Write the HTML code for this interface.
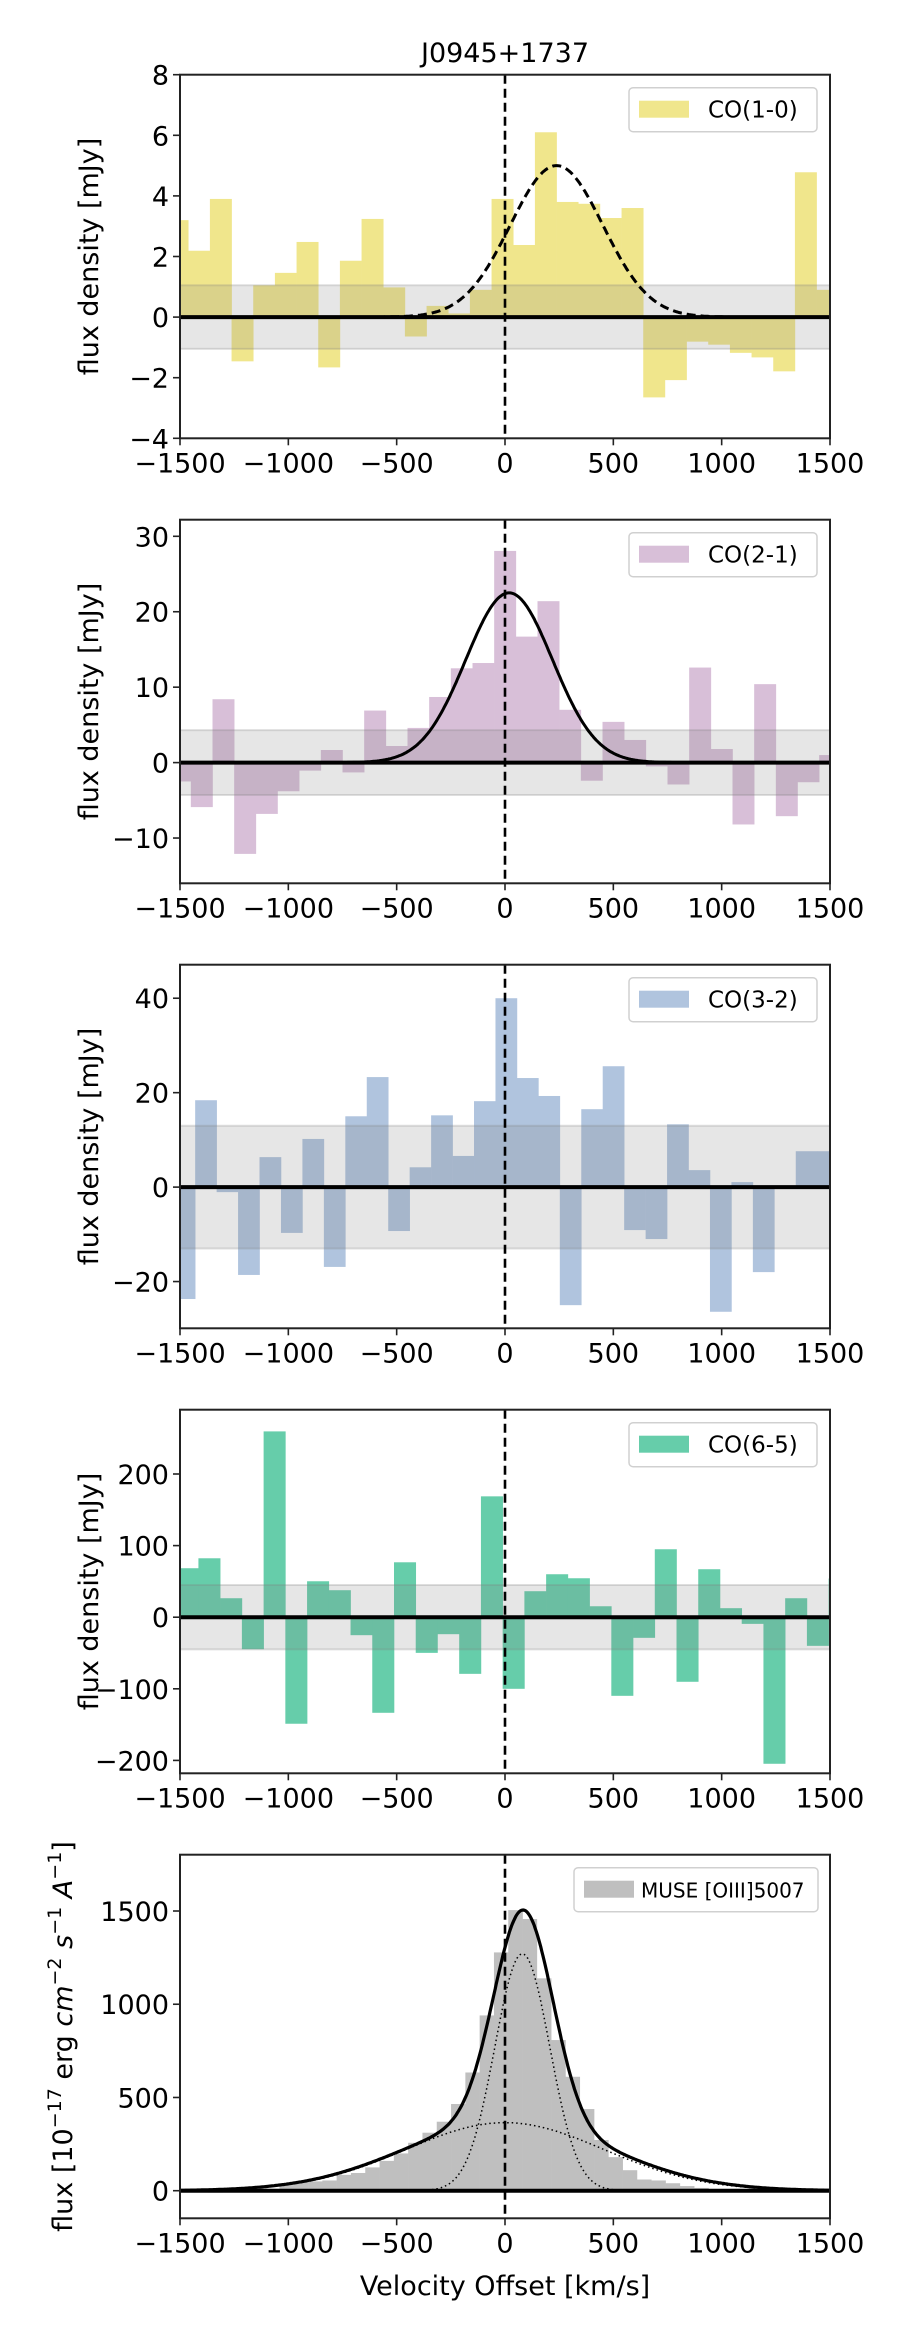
<!DOCTYPE html>
<html><head><meta charset="utf-8"><style>
body{margin:0;background:#fff;}
svg{display:block;font-family:"DejaVu Sans","Liberation Sans",sans-serif;}
</style></head><body>
<svg id="fig" width="900" height="2340" viewBox="0 0 900 2340" xmlns="http://www.w3.org/2000/svg">
<text x="505" y="62" font-size="27" text-anchor="middle">J0945+1737</text>
<text x="505" y="2295" font-size="27" text-anchor="middle">Velocity Offset [km/s]</text>
</svg>
<script>
// ---- data ----
const xTicks = [-1500, -1000, -500, 0, 500, 1000, 1500];
const xTickLabels = ["\u22121500", "\u22121000", "\u2212500", "0", "500", "1000", "1500"];

const co10Start = -1562, co10Width = 100;
const co10Values = [3.2,2.19,3.9,-1.46,1.05,1.46,2.48,-1.66,1.86,3.24,0.98,-0.64,0.37,0.12,0.9,3.9,2.38,6.1,3.8,3.74,3.27,3.6,-2.65,-2.08,-0.81,-0.91,-1.18,-1.33,-1.79,4.78,0.9];
const co10Fit = [5.0, 238, 214];
const co10Noise = 1.05;
const co10YTicks = [-4,-2,0,2,4,6,8];

const co21Start = -1550, co21Width = 100;
const co21Values = [-2.5,-5.9,8.4,-12.1,-6.8,-3.8,-1.06,1.67,-1.3,6.9,2.2,4.6,8.7,12.5,13.2,28.06,16.7,21.4,7.0,-2.4,5.4,3.0,-0.5,-2.9,12.6,1.8,-8.2,10.4,-7.1,-2.6,1.0];
const co21Fit = [22.5, 19, 200];
const co21Noise = 4.3;
const co21YTicks = [-10,0,10,20,30];

const co32Start = -1529, co32Width = 99;
const co32Values = [-23.7,18.4,-1.06,-18.6,6.35,-9.7,10.2,-16.9,15.0,23.3,-9.3,4.2,15.2,6.6,18.2,40.0,23.1,19.3,-25.0,16.5,25.6,-9.1,-11.0,13.3,3.6,-26.4,1.06,-18.0,0,7.6,7.6];
const co32Noise = 13;
const co32YTicks = [-20,0,20,40];

const co65Start = -1515.3, co65Width = 100.3;
const co65Values = [68.4,82.3,26.5,-44.7,259.5,-148.8,50.2,37.7,-25.1,-133.5,76.7,-49.8,-23.7,-79.1,168.8,-100,36.3,60,54.4,15.3,-109.8,-28.8,94.9,-90.2,67,12.6,-9.3,-204.7,26.5,-40,54];
const co65Noise = 45;
const co65YTicks = [-200,-100,0,100,200];

const o3Start = -1503, o3Width = 66;
const o3Values = [0,0,-10,0,0,5,10,30,50,50,55,85,95,125,160,200,257,311,370,465,634,940,1278,1505,1457,1139,808,611,438,272,180,110,60,55,40,25,15,8,3,0,0,0,0,0,0,0];
const o3TotalNarrow = [1140, 85, 135];
const o3TotalBroad = [370, 10, 470];
const o3CompNarrow = [1270, 80, 127];
const o3CompBroad = [365, 0, 456];
const o3YTicks = [0,500,1000,1500];
const o3YTickLabels = ["0","500","1000","1500"];

// ---- drawing ----
const NS = "http://www.w3.org/2000/svg";
const svg = document.getElementById("fig");
const AX_L = 180, AX_R = 830, AX_H = 363.6;
function mk(tag, attrs, parent){const e=document.createElementNS(NS,tag);for(const k in attrs)e.setAttribute(k,attrs[k]);(parent||svg).appendChild(e);return e;}
function xs(v){return AX_L + (v+1500)/3000*(AX_R-AX_L);}
function gauss(p,x){return p[0]*Math.exp(-(x-p[1])*(x-p[1])/(2*p[2]*p[2]));}
function fmt(v){return v<0?"\u2212"+Math.abs(v):String(v);}

function panel(idx, top, ymin, ymax, start, width, values, color, noise, yticks, legendText, opts){
  const ys = v => top + (ymax - v)/(ymax-ymin)*AX_H;
  const g = mk("g",{});
  
  
  const cp = mk("clipPath",{id:"clip"+idx},g);
  mk("rect",{x:AX_L,y:top,width:AX_R-AX_L,height:AX_H},cp);
  const plot = mk("g",{"clip-path":"url(#clip"+idx+")"},g);
  values.forEach((v,i)=>{
    const x0=xs(start+i*width), x1=xs(start+(i+1)*width);
    const r = mk("rect",{x:x0,y:Math.min(ys(v),ys(0)),width:x1-x0+0.3,height:Math.abs(ys(v)-ys(0)),fill:color},plot);
    
    
  });
  if(noise!==null){
    const b = mk("rect",{x:AX_L,y:ys(noise),width:AX_R-AX_L,height:ys(-noise)-ys(noise),fill:"rgba(128,128,128,0.2)"},plot);
    
    
    mk("line",{x1:AX_L,x2:AX_R,y1:ys(noise),y2:ys(noise),stroke:"rgba(128,128,128,0.25)","stroke-width":2},plot);
    mk("line",{x1:AX_L,x2:AX_R,y1:ys(-noise),y2:ys(-noise),stroke:"rgba(128,128,128,0.25)","stroke-width":2},plot);
  }
  const zl = mk("line",{x1:AX_L,x2:AX_R,y1:ys(0),y2:ys(0),stroke:"#000","stroke-width":4},plot);
  
  
  if(opts.curves){
    opts.curves.forEach(c=>{
      let d="";
      for(let v=-1500;v<=1500;v+=5){const y=c.f(v);d+=(d?"L":"M")+xs(v).toFixed(1)+","+ys(y).toFixed(1);}
      const p = mk("path",{d:d,fill:"none",stroke:"#000","stroke-width":c.w,"stroke-dasharray":c.dash||"none"},plot);
      
      
    });
  }
  const vl = mk("line",{x1:xs(0),x2:xs(0),y1:top,y2:top+AX_H,stroke:"#000","stroke-width":2.6,"stroke-dasharray":"9,5"},g);
  
  
  const fr = mk("rect",{x:AX_L,y:top,width:AX_R-AX_L,height:AX_H,fill:"none",stroke:"#222","stroke-width":2},g);
  
  
  xTicks.forEach((t,i)=>{
    mk("line",{x1:xs(t),x2:xs(t),y1:top+AX_H,y2:top+AX_H+7,stroke:"#222","stroke-width":1.6},g);
    const tx = mk("text",{x:xs(t),y:top+AX_H+34,"font-size":27,"text-anchor":"middle"},g);
    tx.textContent = xTickLabels[i];
    
    
  });
  yticks.forEach((t,i)=>{
    mk("line",{x1:AX_L-7,x2:AX_L,y1:ys(t),y2:ys(t),stroke:"#222","stroke-width":1.6},g);
    const tx = mk("text",{x:AX_L-11,y:ys(t)+10,"font-size":27,"text-anchor":"end"},g);
    tx.textContent = opts.yLabels?opts.yLabels[i]:fmt(t);
    
    
  });
  const yl = mk("text",{x:0,y:0,"font-size":opts.ylFont||27,"text-anchor":"middle",transform:"translate("+(opts.ylX||98)+","+(top+AX_H/2)+") rotate(-90)"},g);
  
  
  if(opts.ylabelHTML){yl.innerHTML=opts.ylabelHTML;}else{yl.textContent="flux density [mJy]";}
  const lg = mk("g",{},g);
  
  
  const L = opts.legend;
  mk("rect",{x:L.x,y:top+13,width:L.w,height:44,rx:4,fill:"#fff",stroke:"#d0d0d0","stroke-width":1.5},lg);
  mk("rect",{x:L.x+10,y:top+26,width:50,height:17,fill:color},lg);
  const lt = mk("text",{x:L.x+L.tx,y:top+43,"font-size":L.fs},lg);
  lt.textContent = legendText;
  
  
}

const T0 = 74.7, DY = 445;
panel(1, T0, -4, 8, co10Start, co10Width, co10Values, "#f0e68c", co10Noise, co10YTicks, "CO(1-0)",
  {legend:{x:629,w:188,tx:79,fs:23}, curves:[{name:"co10-gaussian-fit",w:3,dash:"9,5",f:v=>gauss(co10Fit,v)}]});
panel(2, T0+DY, -16, 32.2, co21Start, co21Width, co21Values, "#d8bfd8", co21Noise, co21YTicks, "CO(2-1)",
  {legend:{x:629,w:188,tx:79,fs:23}, curves:[{name:"co21-gaussian-fit",w:3,f:v=>gauss(co21Fit,v)}]});
panel(3, T0+2*DY, -29.9, 47.1, co32Start, co32Width, co32Values, "#b0c4de", co32Noise, co32YTicks, "CO(3-2)",
  {legend:{x:629,w:188,tx:79,fs:23}});
panel(4, T0+3*DY, -218, 289.8, co65Start, co65Width, co65Values, "#66cdaa", co65Noise, co65YTicks, "CO(6-5)",
  {legend:{x:629,w:188,tx:79,fs:23}});
panel(5, T0+4*DY, -148, 1802, o3Start, o3Width, o3Values, "#bfbfbf", null, o3YTicks, "MUSE [OIII]5007",
  {legend:{x:574,w:244,tx:67,fs:20}, yLabels:o3YTickLabels, ylX:72, ylFont:27,
   ylabelHTML:'flux  [10<tspan font-size="19" dy="-11">\u221217</tspan><tspan dy="11"> erg </tspan><tspan font-style="italic">cm</tspan><tspan font-size="19" dy="-11">\u22122</tspan><tspan dy="11"> </tspan><tspan font-style="italic">s</tspan><tspan font-size="19" dy="-11">\u22121</tspan><tspan dy="11"> </tspan><tspan font-style="italic">A</tspan><tspan font-size="19" dy="-11">\u22121</tspan><tspan dy="11">]</tspan>',
   curves:[
     {name:"narrow-component",w:1.5,dash:"1.5,3",f:v=>gauss(o3CompNarrow,v)},
     {name:"broad-component",w:1.5,dash:"1.5,3",f:v=>gauss(o3CompBroad,v)},
     {name:"total-fit",w:3.2,f:v=>gauss(o3TotalNarrow,v)+gauss(o3TotalBroad,v)}
   ]});
</script>
</body></html>
